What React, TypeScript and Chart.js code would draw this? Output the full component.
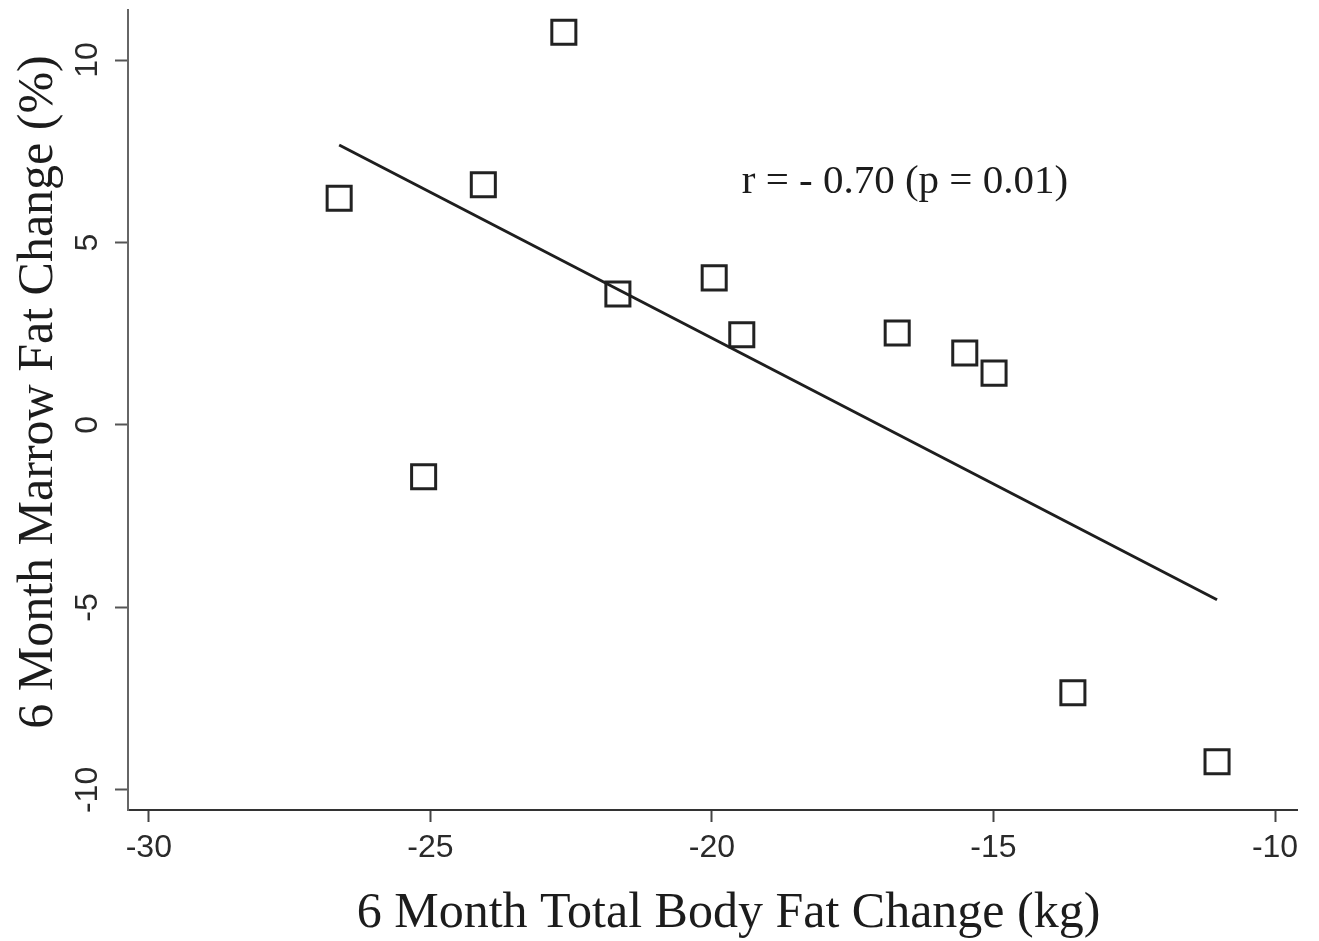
import React, { useEffect, useRef } from 'react';
import { Chart, registerables } from 'chart.js';

Chart.register(...registerables);

// ---- data ----
const BODY_FAT_CHANGE = [-26.62, -24.06, -22.63, -25.12, -21.67, -19.96, -19.47, -16.71, -15.51, -14.99, -13.59, -11.03];
const MARROW_FAT_CHANGE = [6.21, 6.58, 10.76, -1.42, 3.59, 4.03, 2.47, 2.52, 1.97, 1.42, -7.34, -9.23];
const FIT_X = [-26.62, -11.03];
const FIT_Y = [7.67, -4.79];
const X_TICKS = [-30, -25, -20, -15, -10];
const Y_TICKS = [-10, -5, 0, 5, 10];
const X_RANGE = [-30.37, -9.61];
const Y_RANGE = [-10.55, 11.37];
const X_TITLE = '6 Month Total Body Fat Change (kg)';
const Y_TITLE = '6 Month Marrow Fat Change (%)';
const ANNOTATION = 'r = - 0.70 (p = 0.01)';
const ANNOTATION_POS = [-19.47, 6.36];

const SERIF = '"Liberation Serif", "Times New Roman", serif';
const SANS = '"Liberation Sans", Arial, sans-serif';

const textPlugin = {
  id: 'textPlugin',
  afterDraw(chart: any) {
    const { ctx, chartArea, scales } = chart;
    ctx.save();
    ctx.fillStyle = '#1c1c1c';
    ctx.font = `41px ${SERIF}`;
    ctx.textAlign = 'left';
    ctx.textBaseline = 'alphabetic';
    ctx.fillText(
      ANNOTATION,
      scales.x.getPixelForValue(ANNOTATION_POS[0]),
      scales.y.getPixelForValue(ANNOTATION_POS[1])
    );
    ctx.font = `50px ${SERIF}`;
    ctx.textAlign = 'center';
    const cx = (chartArea.left + chartArea.right) / 2 + 16;
    ctx.fillText(X_TITLE, cx, chartArea.bottom + 117);
    ctx.translate(chartArea.left - 76, (chartArea.top + chartArea.bottom) / 2 - 18);
    ctx.rotate(-Math.PI / 2);
    ctx.font = `50px ${SERIF}`;
    ctx.fillText(Y_TITLE, 0, 0);
    ctx.restore();
  },
};

export default function App() {
  const ref = useRef<HTMLCanvasElement | null>(null);

  useEffect(() => {
    if (!ref.current) return;
    const chart = new Chart(ref.current, {
      type: 'scatter',
      data: {
        datasets: [
          {
            label: 'fit',
            data: FIT_X.map((x, i) => ({ x, y: FIT_Y[i] })),
            showLine: true,
            borderColor: '#1e1e1e',
            borderWidth: 3,
            pointRadius: 0,
            fill: false,
          } as any,
          {
            label: 'subjects',
            data: BODY_FAT_CHANGE.map((x, i) => ({ x, y: MARROW_FAT_CHANGE[i] })),
            pointStyle: 'rect',
            pointRadius: 17,
            pointHoverRadius: 17,
            borderColor: '#222',
            borderWidth: 3,
            backgroundColor: 'rgba(0,0,0,0)',
            clip: false,
          } as any,
        ],
      },
      options: {
        animation: false,
        responsive: false,
        devicePixelRatio: 1,
        layout: { autoPadding: false, padding: { top: 10, right: 22, left: 0, bottom: 0 } },
        plugins: {
          legend: { display: false },
          tooltip: { enabled: false },
        },
        scales: {
          x: {
            type: 'linear',
            min: X_RANGE[0],
            max: X_RANGE[1],
            afterBuildTicks: (s: any) => {
              s.ticks = X_TICKS.map((v) => ({ value: v }));
            },
            afterFit: (s: any) => {
              s.height = 131;
              s.paddingLeft = 0;
              s.paddingRight = 0;
            },
            grid: {
              display: true,
              drawOnChartArea: false,
              drawTicks: true,
              tickLength: 12,
              tickColor: '#444',
              tickWidth: 2,
            },
            border: { display: true, color: '#333', width: 2 },
            ticks: {
              font: { family: SANS, size: 32 },
              color: '#2a2a2a',
              padding: 7,
              maxRotation: 0,
              autoSkip: false,
            },
          },
          y: {
            type: 'linear',
            min: Y_RANGE[0],
            max: Y_RANGE[1],
            afterBuildTicks: (s: any) => {
              s.ticks = Y_TICKS.map((v) => ({ value: v }));
            },
            afterFit: (s: any) => {
              s.width = 128;
              s.paddingTop = 0;
              s.paddingBottom = 0;
            },
            grid: {
              display: true,
              drawOnChartArea: false,
              drawTicks: true,
              tickLength: 13,
              tickColor: '#555',
              tickWidth: 2,
            },
            border: { display: true, color: '#666', width: 2 },
            ticks: {
              font: { family: SANS, size: 32 },
              color: '#2a2a2a',
              padding: 4,
              minRotation: 90,
              maxRotation: 90,
              crossAlign: 'center',
              autoSkip: false,
            },
          },
        },
      } as any,
      plugins: [textPlugin],
    });
    return () => chart.destroy();
  }, []);

  return (
    <div style={{ position: 'absolute', left: 0, top: 0, width: 1319, height: 941, background: '#fff' }}>
      <canvas ref={ref} width={1319} height={941} style={{ display: 'block' }} />
    </div>
  );
}
